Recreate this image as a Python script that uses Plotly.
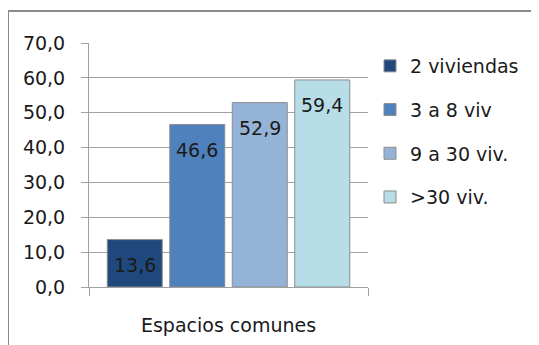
import plotly.graph_objects as go

categories = ["Espacios comunes"]
series_names = ["2 viviendas", "3 a 8 viv", "9 a 30 viv.", ">30 viv."]
series_values = [13.6, 46.6, 52.9, 59.4]
series_colors = ["#1F497D", "#4F81BD", "#95B3D7", "#B7DEE8"]
y_ticks = [0, 10, 20, 30, 40, 50, 60, 70]
y_tick_labels = ["0,0", "10,0", "20,0", "30,0", "40,0", "50,0", "60,0", "70,0"]

FONT = "DejaVu Sans"
FS = 19
TXT = "#1a1a1a"

OFF = 8  # default page body margin
W, H = 539 - OFF, 345 - OFF
L, R, T, B = 81, 171, 35, 58
pw, ph = W - L - R, H - T - B
BARGAP, GROUPGAP = 0.104, 0.12


def px_x(p):  # screen pixel -> paper x
    return (p - OFF - L) / pw


def px_y(p):  # screen pixel -> paper y
    return (H - B - (p - OFF)) / ph


fig = go.Figure()
for name, val, col in zip(series_names, series_values, series_colors):
    fig.add_trace(go.Bar(
        x=categories, y=[val], name=name, legendgroup=name,
        marker=dict(color=col, line=dict(color="#8C8C8C", width=1)),
        hoverinfo="skip",
    ))

# value labels placed inside the top of each bar (data coordinates)
n = len(series_values)
slot = pw * (1 - BARGAP) / n
annotations = []
for i, val in enumerate(series_values):
    annotations.append(dict(
        x=categories[0], y=val, xref="x", yref="y",
        text=f"{val:.1f}".replace(".", ","), showarrow=False,
        xshift=(i - (n - 1) / 2) * slot, yanchor="top", yshift=-12,
        font=dict(family=FONT, size=FS, color=TXT),
    ))

fig.update_layout(
    width=W, height=H,
    margin=dict(l=L, r=R, t=T, b=B, autoexpand=False),
    paper_bgcolor="white", plot_bgcolor="white",
    barmode="group", bargap=BARGAP, bargroupgap=GROUPGAP,
    font=dict(family=FONT, size=FS, color=TXT),
    showlegend=True,
    legend=dict(x=px_x(370), y=px_y(47), xanchor="left", yanchor="top",
                font=dict(family=FONT, size=FS, color=TXT),
                tracegroupgap=16, bgcolor="rgba(0,0,0,0)",
                itemwidth=30),
    annotations=annotations,
    shapes=[dict(type="rect", xref="paper", yref="paper",
                 x0=px_x(8), x1=px_x(570), y0=px_y(11), y1=px_y(380),
                 line=dict(color="#8A8A8A", width=2), fillcolor="rgba(0,0,0,0)",
                 layer="below")],
)
fig.update_xaxes(
    type="category", range=[-0.5, 0.5],
    showline=True, linecolor="#A0A0A0", linewidth=1,
    ticks="outside", tickson="boundaries", ticklen=8, tickcolor="#A0A0A0",
    ticklabelstandoff=21,
    tickfont=dict(family=FONT, size=FS, color=TXT),
    showgrid=False, zeroline=False,
)
fig.update_yaxes(
    range=[0, 70], tickvals=y_ticks, ticktext=y_tick_labels,
    showline=True, linecolor="#A0A0A0", linewidth=1,
    ticks="outside", ticklen=7, tickcolor="#A0A0A0",
    ticklabelstandoff=12,
    showgrid=True, gridcolor="#A0A0A0", gridwidth=1,
    zeroline=False,
    tickfont=dict(family=FONT, size=FS, color=TXT),
)

fig.write_html("out.html")
